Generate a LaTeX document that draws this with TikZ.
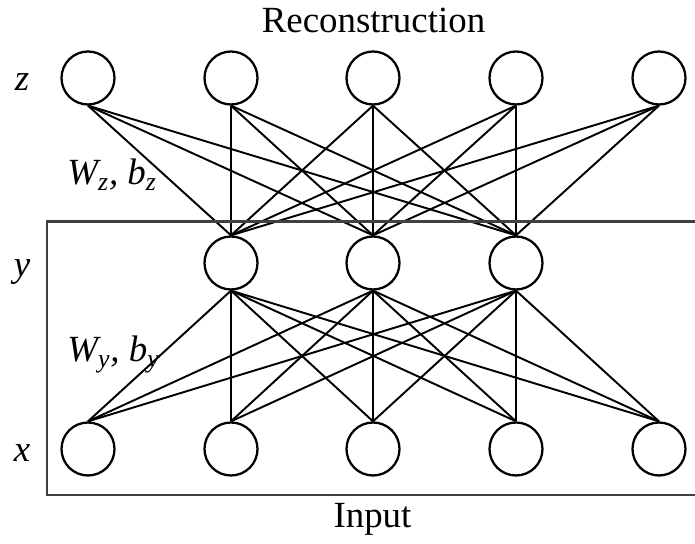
\documentclass[tikz,border=0pt]{standalone}
\usepackage{fontspec}
\setmainfont{Liberation Serif}
\begin{document}
\begin{tikzpicture}[
    neu/.style={circle,draw,line width=1.3pt,minimum size=1.06cm,inner sep=0pt},
    lnk/.style={line width=1.1pt},
    frame/.style={black!75,line width=1.3pt},
    every node/.style={font=\fontsize{21}{25}\selectfont}]
  \useasboundingbox (0,0) rectangle (13.9,10.88);
  %-------------------------------------------------- the three layers
  \foreach \i/\px in {1/1.76,2/4.62,3/7.46,4/10.32,5/13.18}{
    \node[neu] (z\i) at (\px,9.32) {};
    \node[neu] (x\i) at (\px,1.90) {};
  }
  \foreach \j/\px in {1/4.62,2/7.46,3/10.32}{
    \node[neu] (y\j) at (\px,5.62) {};
  }
  %-------------------------------------------------- weights
  \foreach \i in {1,...,5}{
    \foreach \j in {1,2,3}{
      \draw[lnk] (z\i.south) -- (y\j.north);
      \draw[lnk] (y\j.south) -- (x\i.north);
    }
  }
  %-------------------------------------------------- the open box round input
  \draw[frame] (13.9,6.45) -- (0.94,6.45) -- (0.94,0.98) -- (13.9,0.98);
  %-------------------------------------------------- texts
  \node[anchor=base] (rec) at (7.47,10.22) {Reconstruction};
  \node[anchor=base] (inp) at (7.45,0.32) {Input};
  \node[anchor=base] (lz) at (0.44,9.06) {\textit{z}};
  \node[anchor=base] (ly) at (0.44,5.34) {\textit{y}};
  \node[anchor=base] (lx) at (0.44,1.64) {\textit{x}};
  \node[anchor=base west,inner sep=0pt] (wz) at (1.34,7.18)
    {\textit{W\textsubscript{z}, b\textsubscript{z}}};
  \node[anchor=base west,inner sep=0pt] (wy) at (1.34,3.64)
    {\textit{W\textsubscript{y}, b\textsubscript{y}}};
\end{tikzpicture}
\end{document}
